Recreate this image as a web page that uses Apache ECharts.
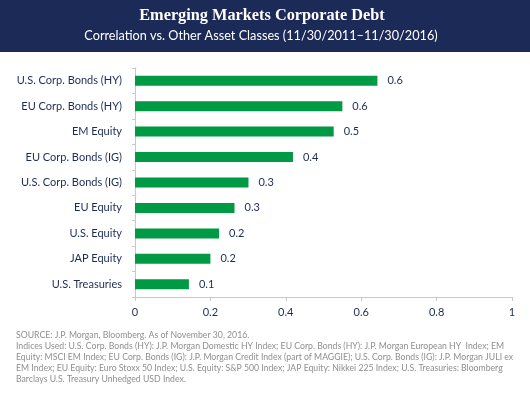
<!DOCTYPE html>
<html>
<meta charset="UTF-8">
<title>em-corp-debt</title>
<style type="text/css">
    html,
    body {
        margin: 0px;
        height: 100%;
        width: 100%;
        background: #fff;
    }

    #chart {
        width: 530px;
        height: 397px;
    }
</style>
<script src="https://cdn.jsdelivr.net/npm/echarts@6/dist/echarts.min.js"></script>

<body>
    <div id="chart"></div>
    <script>
        // bottom to top, as the category axis draws them
        const categories = [
            'U.S. Treasuries',
            'JAP Equity',
            'U.S. Equity',
            'EU Equity',
            'U.S. Corp. Bonds (IG)',
            'EU Corp. Bonds (IG)',
            'EM Equity',
            'EU Corp. Bonds (HY)',
            'U.S. Corp. Bonds (HY)'
        ];
        const correlations = [0.143, 0.2, 0.223, 0.264, 0.301, 0.419, 0.527, 0.55, 0.643];
        const xTicks = [0, 0.2, 0.4, 0.6, 0.8, 1];

        const title = 'Emerging Markets Corporate Debt';
        const subtitle = 'Correlation vs. Other Asset Classes (11/30/2011\u201311/30/2016)';
        const footnote = [
            'SOURCE: J.P. Morgan, Bloomberg. As of November 30, 2016.',
            'Indices Used: U.S. Corp. Bonds (HY): J.P. Morgan Domestic HY Index; EU Corp. Bonds (HY): J.P. Morgan European HY  Index; EM',
            'Equity: MSCI EM Index; EU Corp. Bonds (IG): J.P. Morgan Credit Index (part of MAGGIE); U.S. Corp. Bonds (IG): J.P. Morgan JULI ex',
            'EM Index; EU Equity: Euro Stoxx 50 Index; U.S. Equity: S&P 500 Index; JAP Equity: Nikkei 225 Index; U.S. Treasuries: Bloomberg',
            'Barclays U.S. Treasury Unhedged USD Index.'
        ];

        const navy = '#1e2b58';
        const font = 'Lato, "Open Sans", sans-serif';

        const chart = echarts.init(document.querySelector('#chart'));

        const options = {
            animation: false,
            textStyle: { fontFamily: font },
            graphic: [
                {
                    type: 'rect',
                    left: 0, top: 0,
                    shape: { width: 530, height: 52 },
                    style: { fill: '#1b2a56' }
                },
                {
                    type: 'text',
                    x: 262, y: 16,
                    style: {
                        text: title,
                        fill: '#fff',
                        font: 'bold 16.3px "Liberation Serif", "DejaVu Serif", serif',
                        align: 'center',
                        verticalAlign: 'middle'
                    }
                },
                {
                    type: 'text',
                    x: 261, y: 36,
                    style: {
                        text: subtitle,
                        fill: '#fff',
                        font: '12.7px ' + font,
                        align: 'center',
                        verticalAlign: 'middle'
                    }
                },
                {
                    type: 'text',
                    x: 16, y: 330,
                    style: {
                        text: footnote.join('\n'),
                        fill: '#8f8f8f',
                        font: '8.7px ' + font,
                        lineHeight: 11
                    }
                }
            ],
            grid: {
                left: 135,
                right: 18,
                top: 68,
                bottom: 100,
                containLabel: false
            },
            xAxis: {
                type: 'value',
                min: 0,
                max: 1,
                interval: 0.2,
                splitLine: { show: false },
                axisLine: { show: true, lineStyle: { color: '#c8c8c8' } },
                axisTick: { show: true, length: 4, lineStyle: { color: '#c8c8c8' } },
                axisLabel: {
                    color: navy,
                    fontSize: 11,
                    margin: 10,
                    formatter: v => xTicks.includes(+v.toFixed(1)) ? String(+v.toFixed(1)) : ''
                }
            },
            yAxis: {
                type: 'category',
                data: categories,
                axisLine: { show: true, lineStyle: { color: '#c8c8c8' } },
                axisTick: { show: true, length: 3, lineStyle: { color: '#c8c8c8' } },
                axisLabel: { color: navy, fontSize: 11, margin: 13 }
            },
            series: [{
                type: 'bar',
                data: correlations,
                barWidth: 10,
                itemStyle: { color: '#009a44' },
                label: {
                    show: true,
                    position: 'right',
                    distance: 10,
                    color: navy,
                    fontSize: 11,
                    formatter: p => p.value.toFixed(1)
                }
            }]
        };
        chart.setOption(options);
    </script>
</body>

</html>
